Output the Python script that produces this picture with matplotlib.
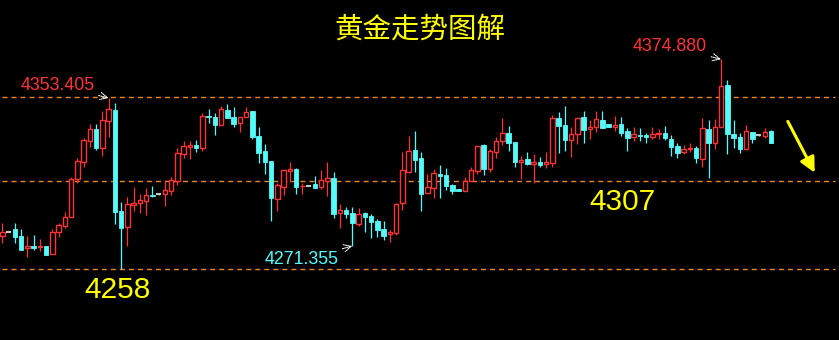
import matplotlib
matplotlib.use("Agg")
import matplotlib.pyplot as plt
from matplotlib.patches import Rectangle

opens = [4276.9, 4279.3, 4280.6, 4276.9, 4270.1, 4271.4, 4270.6, 4271.4, 4266.7, 4279.3,
         4282.6, 4287.3, 4308.3, 4318.1, 4329.8, 4336.0, 4325.9, 4340.9, 4346.8, 4290.8,
         4282.1, 4294.1, 4295.4, 4296.5, 4299.6, 4300.0, 4300.0, 4302.0, 4307.6, 4322.2,
         4326.1, 4327.4, 4325.9, 4343.6, 4342.7, 4338.6, 4346.8, 4343.1, 4339.4, 4342.7,
         4346.2, 4332.4, 4324.0, 4318.5, 4297.4, 4304.3, 4313.1, 4314.1, 4304.4, 4304.8,
         4305.6, 4304.3, 4307.6, 4308.9, 4289.9, 4291.3, 4289.9, 4283.6, 4289.9, 4288.2,
         4285.4, 4280.8, 4278.0, 4278.8, 4295.0, 4312.6, 4324.6, 4320.2, 4300.6, 4303.3,
         4311.3, 4310.7, 4305.2, 4303.0, 4302.0, 4307.6, 4313.1, 4327.4, 4314.1, 4323.7,
         4329.8, 4334.2, 4329.2, 4318.1, 4319.6, 4316.8, 4318.1, 4316.6, 4317.6, 4342.5,
         4338.5, 4330.1, 4333.3, 4343.1, 4336.0, 4337.2, 4341.2, 4339.0, 4337.5, 4339.0,
         4335.1, 4331.6, 4332.9, 4332.9, 4332.0, 4333.3, 4333.8, 4330.7, 4326.8, 4323.3,
         4325.3, 4325.5, 4319.8, 4336.2, 4328.3, 4337.5, 4360.6, 4333.4, 4331.6, 4324.9,
         4334.4, 4332.7, 4332.5, 4335.1]
closes = [4279.3, 4279.3, 4276.5, 4269.1, 4271.4, 4270.4, 4271.4, 4266.4, 4278.9, 4282.8,
          4287.3, 4308.3, 4318.5, 4330.1, 4336.0, 4325.5, 4341.2, 4347.1, 4290.4, 4281.1,
          4294.5, 4295.0, 4296.9, 4299.4, 4299.1, 4300.0, 4302.4, 4307.9, 4322.7, 4326.8,
          4327.4, 4325.9, 4343.4, 4343.1, 4338.5, 4347.3, 4342.5, 4339.0, 4342.7, 4345.5,
          4332.0, 4323.1, 4318.1, 4298.2, 4305.2, 4313.5, 4313.9, 4304.3, 4304.8, 4304.8,
          4303.7, 4308.0, 4308.9, 4289.1, 4291.3, 4289.1, 4284.3, 4289.1, 4287.6, 4284.8,
          4280.2, 4277.1, 4279.3, 4294.6, 4313.5, 4324.0, 4319.0, 4300.2, 4303.9, 4311.6,
          4310.4, 4304.6, 4302.0, 4302.0, 4307.6, 4313.5, 4326.8, 4314.1, 4324.0, 4329.6,
          4334.2, 4328.7, 4318.1, 4319.0, 4316.8, 4318.1, 4316.3, 4318.1, 4342.2, 4337.9,
          4330.1, 4333.5, 4342.2, 4335.7, 4337.2, 4341.6, 4336.9, 4337.5, 4338.4, 4334.2,
          4331.4, 4333.3, 4332.3, 4332.0, 4333.3, 4334.2, 4331.4, 4326.4, 4323.1, 4324.9,
          4325.9, 4320.3, 4336.6, 4328.3, 4337.5, 4360.1, 4333.3, 4331.4, 4324.9, 4335.1,
          4330.7, 4332.7, 4334.4, 4328.3]
highs = [4283.9, 4279.6, 4283.9, 4280.6, 4276.9, 4277.5, 4275.1, 4271.4, 4280.6, 4283.9,
         4290.4, 4309.4, 4320.0, 4331.1, 4339.0, 4339.0, 4346.2, 4353.405, 4350.8, 4295.9,
         4298.3, 4304.3, 4300.2, 4303.3, 4304.6, 4300.3, 4307.9, 4309.4, 4325.5, 4329.6,
         4329.6, 4330.1, 4344.9, 4347.1, 4345.3, 4349.2, 4350.1, 4348.2, 4343.1, 4348.2,
         4346.2, 4337.5, 4327.9, 4318.5, 4306.1, 4314.1, 4318.1, 4314.8, 4306.1, 4305.0,
         4310.2, 4313.5, 4318.1, 4312.6, 4294.6, 4293.2, 4293.2, 4292.2, 4290.4, 4289.1,
         4286.3, 4285.4, 4280.2, 4295.0, 4323.7, 4332.4, 4335.1, 4323.3, 4311.3, 4314.1,
         4316.3, 4314.4, 4305.7, 4303.0, 4309.4, 4315.0, 4326.8, 4327.9, 4325.0, 4332.0,
         4342.5, 4337.9, 4329.2, 4321.3, 4323.7, 4322.4, 4320.5, 4323.7, 4344.0, 4345.5,
         4349.0, 4337.5, 4342.2, 4346.2, 4341.2, 4346.2, 4346.2, 4339.0, 4343.4, 4342.7,
         4336.6, 4337.5, 4336.6, 4333.8, 4337.1, 4336.2, 4337.9, 4332.9, 4328.3, 4327.4,
         4328.6, 4326.8, 4342.5, 4341.2, 4341.6, 4374.88, 4363.4, 4341.2, 4334.2, 4338.4,
         4334.4, 4332.9, 4336.6, 4335.7]
lows = [4272.8, 4279.0, 4272.8, 4269.1, 4265.1, 4269.1, 4268.8, 4266.4, 4266.7, 4276.5,
        4281.5, 4287.3, 4306.5, 4315.0, 4326.4, 4324.6, 4321.3, 4331.6, 4283.6, 4258.6,
        4271.5, 4290.9, 4289.8, 4288.5, 4298.3, 4299.7, 4293.5, 4299.6, 4305.2, 4320.3,
        4319.4, 4323.7, 4324.0, 4339.4, 4332.9, 4338.6, 4342.5, 4337.5, 4334.8, 4342.7,
        4330.7, 4317.6, 4311.3, 4285.4, 4291.0, 4299.6, 4307.0, 4300.0, 4300.2, 4304.6,
        4303.7, 4303.0, 4299.3, 4286.7, 4281.2, 4286.7, 4271.355, 4282.6, 4279.3, 4275.6,
        4276.5, 4274.7, 4273.8, 4277.5, 4291.3, 4311.6, 4312.6, 4291.0, 4300.6, 4298.2,
        4298.2, 4302.4, 4300.2, 4302.0, 4302.0, 4307.6, 4311.3, 4310.7, 4312.6, 4320.0,
        4327.4, 4324.0, 4315.3, 4308.5, 4316.3, 4306.5, 4315.0, 4314.8, 4315.0, 4323.1,
        4324.0, 4320.9, 4327.9, 4328.7, 4330.5, 4334.8, 4336.9, 4337.5, 4335.1, 4332.3,
        4324.2, 4329.8, 4329.8, 4328.3, 4330.7, 4330.5, 4330.1, 4321.2, 4320.3, 4322.4,
        4323.6, 4317.2, 4315.0, 4308.9, 4324.9, 4337.5, 4322.2, 4325.5, 4322.7, 4324.9,
        4328.6, 4332.5, 4331.4, 4328.3]

levels = [4353.8, 4307.4, 4258.4]
peak_labels = ["4353.405", "4374.880", "4271.355"]
big_labels = ["4258", "4307"]
title = "黄金走势图解"

RED = "#ff3333"
CYAN = "#55fcfc"
GRAY = "#c8c8c8"
BG = "#000000"
ORANGE = "#e8862a"
YELLOW = "#ffff00"

fig = plt.figure(figsize=(8.39, 3.40), dpi=100, facecolor=BG)
ax = fig.add_axes([0, 0, 1, 1])
ax.set_facecolor(BG)
ax.set_xlim(-0.37, 133.87)
ax.set_ylim(4219.23, 4407.76)
ax.axis("off")

w = 0.72
for i, (o, h, l, c) in enumerate(zip(opens, highs, lows, closes)):
    top, bot = max(o, c), min(o, c)
    if c > o:
        ax.vlines(i, top, h, color=RED, lw=0.9, zorder=2)
        ax.vlines(i, l, bot, color=RED, lw=0.9, zorder=2)
        ax.add_patch(Rectangle((i - w / 2, bot), w, top - bot, facecolor=BG,
                               edgecolor=RED, lw=1.0, zorder=3))
    elif c < o:
        ax.vlines(i, l, h, color=CYAN, lw=0.9, zorder=2)
        ax.add_patch(Rectangle((i - w / 2, bot), w, top - bot, facecolor=CYAN,
                               edgecolor=CYAN, lw=0.6, zorder=3))
    else:
        ax.vlines(i, l, h, color=GRAY, lw=0.9, zorder=2)
        ax.hlines(o, i - w / 2, i + w / 2, color=GRAY, lw=1.5, zorder=3)

for lv in levels:
    ax.plot([-0.1, 133.3], [lv, lv], color=ORANGE, lw=1.0,
            linestyle=(0, (3.6, 2.9)), zorder=1)

fig.text(0.5006, 0.912, title, color=YELLOW, fontsize=20.5,
         family=["Noto Sans CJK SC", "DejaVu Sans"], ha="center", va="center")

lab_font = ["Liberation Sans", "DejaVu Sans"]
arrow_kw = dict(arrowstyle="->", color="white", lw=0.8, linestyle=(0, (1, 1)),
                shrinkA=1, shrinkB=0)

i_hi1 = highs.index(4353.405)
ax.annotate(peak_labels[0], xy=(i_hi1, highs[i_hi1]), xytext=(-14, 13),
            textcoords="offset pixels", color=RED, fontsize=12.8, family=lab_font,
            ha="right", va="center", arrowprops=arrow_kw)
i_hi2 = highs.index(max(highs))
ax.annotate(peak_labels[1], xy=(i_hi2, highs[i_hi2]), xytext=(-14, 13),
            textcoords="offset pixels", color=RED, fontsize=12.8, family=lab_font,
            ha="right", va="center", arrowprops=arrow_kw)
i_lo = lows.index(4271.355)
ax.annotate(peak_labels[2], xy=(i_lo, lows[i_lo]), xytext=(-14, -14),
            textcoords="offset pixels", color=CYAN, fontsize=12.8, family=lab_font,
            ha="right", va="center", arrowprops=arrow_kw)

ax.annotate(big_labels[0], xy=(18.5, levels[2]), xytext=(0, -21),
            textcoords="offset pixels", color=YELLOW, fontsize=21.5,
            family=lab_font, ha="center", va="center")
ax.annotate(big_labels[1], xy=(99.2, levels[1]), xytext=(0, -21),
            textcoords="offset pixels", color=YELLOW, fontsize=21.5,
            family=lab_font, ha="center", va="center")

ax.annotate("", xy=(0.971, 0.492), xytext=(0.939, 0.643), xycoords="axes fraction",
            textcoords="axes fraction",
            arrowprops=dict(arrowstyle="-|>,head_length=0.9,head_width=0.45",
                            color=YELLOW, lw=2.2, shrinkA=0, shrinkB=0))

fig.savefig("out.png", dpi=100, facecolor=BG)
